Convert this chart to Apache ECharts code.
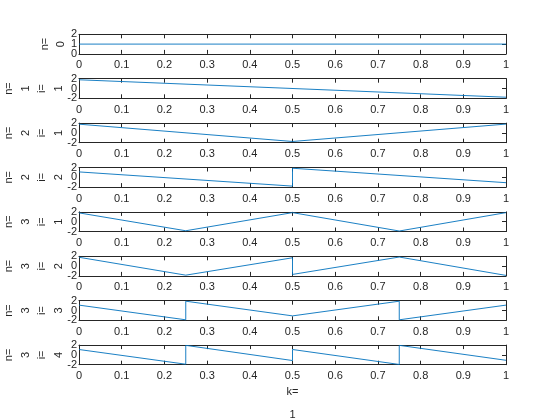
<!DOCTYPE html>
<html><head><meta charset="utf-8">
<script src="https://cdn.jsdelivr.net/npm/echarts@6/dist/echarts.min.js"></script>
<style>html,body{margin:0;padding:0;background:#fff}#c{width:560px;height:420px}</style>
</head><body><div id="c"></div>
<script>
// ---- data ----
const yLabels = ['n=\n0', 'n=\n1\ni=\n1', 'n=\n2\ni=\n1', 'n=\n2\ni=\n2',
                 'n=\n3\ni=\n1', 'n=\n3\ni=\n2', 'n=\n3\ni=\n3', 'n=\n3\ni=\n4'];
const xLabel = 'k=\n1';
const yMin = [0, -2, -2, -2, -2, -2, -2, -2];
const yMax = [2, 2, 2, 2, 2, 2, 2, 2];
const yStep = [1, 2, 2, 2, 2, 2, 2, 2];
const xMin = 0, xMax = 1, xStep = 0.1;
const s0 = [[0, 1], [1, 1]];
const s1 = [[0, 1.78], [1, -1.78]];
const s2 = [[0, 1.78], [0.5, -1.75], [1, 1.8]];
const s3 = [[0, 1.1], [0.5, -1.8], [0.5, 1.85], [1, -1.1]];
const s4 = [[0, 1.8], [0.25, -1.85], [0.5, 1.85], [0.75, -1.9], [1, 1.85]];
const s5 = [[0, 1.8], [0.25, -1.85], [0.5, 1.7], [0.5, -1.7], [0.75, 1.85], [1, -1.9]];
const s6 = [[0, 1.1], [0.25, -1.9], [0.25, 1.9], [0.5, -1.1], [0.75, 1.9], [0.75, -1.9], [1, 1.1]];
const s7 = [[0, 1.1], [0.25, -1.9], [0.25, 1.95], [0.5, -1.15], [0.5, 1.1], [0.75, -1.95], [0.75, 1.95], [1, -1.1]];
const seriesData = [s0, s1, s2, s3, s4, s5, s6, s7];

// ---- layout / style ----
const TXT = '#262626';
const FONT = 'Liberation Sans, Arial, Helvetica, sans-serif';
const FS = 11;
const LINE = '#0072BD';
const grids = [], xAxes = [], yAxes = [], series = [];
const n = seriesData.length;
const lbl = (extra) => Object.assign({show: true, color: TXT, fontSize: FS, fontFamily: FONT,
  hideOverlap: false}, extra);
for (let k = 0; k < n; k++) {
  grids.push({left: 79, right: 54, top: 34.3 + 44.4 * k, height: 19.6,
              outerBoundsMode: 'none', containLabel: false});
  const last = k === n - 1;
  const axLine = {show: true, onZero: false, lineStyle: {color: TXT, width: 1}};
  const axTick = {show: true, inside: true, length: 4, lineStyle: {color: TXT, width: 1}};
  const noLine = {show: false, onZero: false};
  const noTick = {show: false};
  const yr = {type: 'value', gridIndex: k, min: yMin[k], max: yMax[k], interval: yStep[k],
              splitLine: {show: false}};
  // x axes: bottom (labels), top (box ticks)
  xAxes.push({type: 'value', gridIndex: k, position: 'bottom', min: xMin, max: xMax, interval: xStep,
    axisLine: axLine, axisTick: axTick, splitLine: {show: false},
    axisLabel: lbl({margin: 6, showMinLabel: true, showMaxLabel: true}),
    name: last ? xLabel : '', nameLocation: 'middle', nameGap: 15.5, nameMoveOverlap: false,
    nameTextStyle: {color: TXT, fontSize: FS, fontFamily: FONT, lineHeight: 23}});
  xAxes.push({type: 'value', gridIndex: k, position: 'top', min: xMin, max: xMax, interval: xStep,
    axisLine: axLine, axisTick: axTick, splitLine: {show: false}, axisLabel: {show: false}});
  // y axes: left (line, ticks, end labels), left (middle label), left (name only), right (box ticks)
  yAxes.push(Object.assign({}, yr, {position: 'left', axisLine: axLine, axisTick: axTick,
    axisLabel: lbl({margin: 2, showMinLabel: true, showMaxLabel: true})}));
  yAxes.push(Object.assign({}, yr, {position: 'left', axisLine: noLine, axisTick: noTick,
    axisLabel: lbl({margin: 2, showMinLabel: false, showMaxLabel: false})}));
  yAxes.push(Object.assign({}, yr, {position: 'left', axisLine: noLine, axisTick: noTick,
    axisLabel: {show: false},
    name: yLabels[k], nameLocation: 'middle', nameRotate: 90, nameGap: k === 0 ? 9.5 : 12,
    nameMoveOverlap: false,
    nameTextStyle: {color: TXT, fontSize: FS, fontFamily: FONT, lineHeight: 16.5}}));
  yAxes.push(Object.assign({}, yr, {position: 'right', axisLine: axLine, axisTick: axTick,
    axisLabel: {show: false}}));
  series.push({type: 'line', xAxisIndex: 2 * k, yAxisIndex: 4 * k, data: seriesData[k],
    showSymbol: false, symbol: 'none', animation: false,
    lineStyle: {color: LINE, width: 0.9}, itemStyle: {color: LINE}});
}
const chart = echarts.init(document.getElementById('c'), null, {renderer: 'canvas'});
chart.setOption({backgroundColor: '#ffffff', animation: false,
  grid: grids, xAxis: xAxes, yAxis: yAxes, series: series});
</script></body></html>
